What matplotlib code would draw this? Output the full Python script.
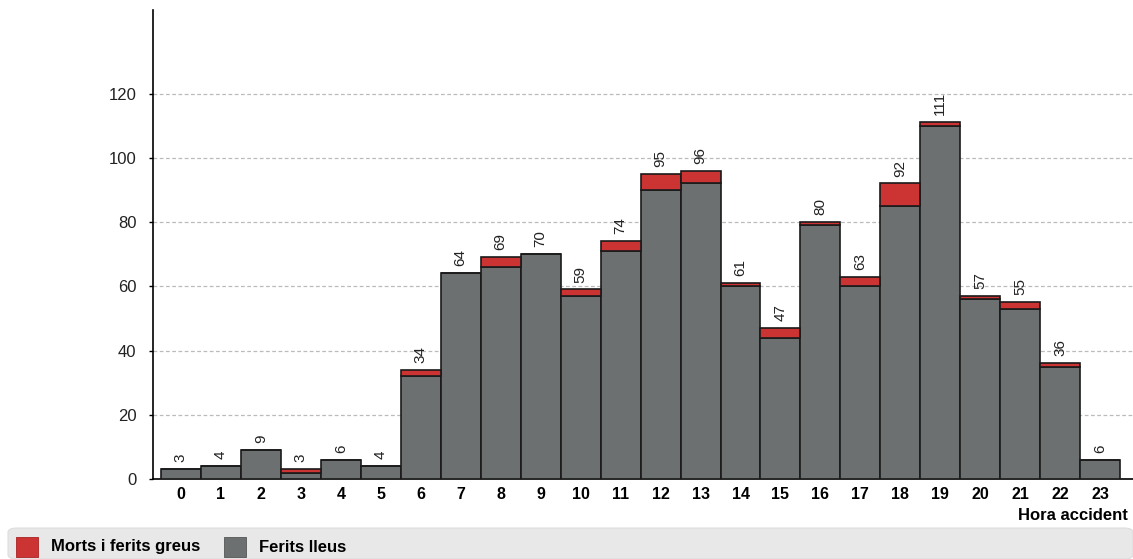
import numpy as np
import matplotlib.pyplot as plt
from matplotlib.patches import FancyBboxPatch, Rectangle

plt.rcParams['font.family'] = ['Liberation Sans', 'DejaVu Sans']

# data
hours = list(range(24))
totals = [3, 4, 9, 3, 6, 4, 34, 64, 69, 70, 59, 74, 95, 96, 61, 47, 80, 63, 92, 111, 57, 55, 36, 6]
ferits_lleus = [3, 4, 9, 2, 6, 4, 32, 64, 66, 70, 57, 71, 90, 92, 60, 44, 79, 60, 85, 110, 56, 53, 35, 6]
morts_greus = [t - f for t, f in zip(totals, ferits_lleus)]

red = '#cc3333'
gray = '#6d7070'

fig = plt.figure(figsize=(11.33, 5.59), dpi=100)
ax = fig.add_axes([0.135, 0.1431, 0.865, 0.839])

x = np.array(hours)
ax.bar(x, ferits_lleus, width=1.0, color=gray, edgecolor='#1a1a1a', linewidth=1.2, zorder=3)
ax.bar(x, morts_greus, width=1.0, bottom=ferits_lleus, color=red, edgecolor='#1a1a1a', linewidth=1.2, zorder=3)

for xi, t in zip(x, totals):
    ax.annotate(str(t), (xi, t), xytext=(0, 5), textcoords='offset points',
                rotation=90, ha='center', va='bottom', fontsize=11, color='#222222')

ax.set_xlim(-0.7, 23.82)
ax.set_ylim(0, 146)
ax.set_yticks([0, 20, 40, 60, 80, 100, 120])
ax.set_xticks(x)
ax.set_xticklabels([str(h) for h in hours], fontweight='bold', fontsize=11.5)
ax.tick_params(axis='y', labelsize=12, length=3, width=1, pad=9, labelcolor='#222222')
ax.tick_params(axis='x', length=0, pad=6)
ax.grid(axis='y', linestyle=(0, (3, 2)), color='#bbbbbb', linewidth=0.9, zorder=0)
for s in ['top', 'right']:
    ax.spines[s].set_visible(False)
ax.spines['left'].set_linewidth(1.2)
ax.spines['bottom'].set_linewidth(1.2)

fig.text(1128 / 1133, 1 - 515 / 559, 'Hora accident', ha='right', va='center',
         fontsize=12, fontweight='bold')

# legend strip at the bottom
W, H = 1133, 559
bg = FancyBboxPatch((8 / W, 0.0), 1125 / W, 31 / H, boxstyle='round,pad=0,rounding_size=0.008',
                    transform=fig.transFigure, facecolor='#e8e8e8', edgecolor='#dddddd',
                    linewidth=0.8, zorder=0)
fig.patches.append(bg)
fig.patches.append(Rectangle((16 / W, 1 - 557 / H), 22 / W, 20 / H, transform=fig.transFigure,
                             facecolor=red, edgecolor='#aa2222', linewidth=0.6))
fig.text(51 / W, 1 - 547 / H, 'Morts i ferits greus', fontsize=12, fontweight='bold', va='center')
fig.patches.append(Rectangle((224 / W, 1 - 557 / H), 22 / W, 20 / H, transform=fig.transFigure,
                             facecolor=gray, edgecolor='#555555', linewidth=0.6))
fig.text(259 / W, 1 - 547 / H, 'Ferits lleus', fontsize=12, fontweight='bold', va='center')

fig.savefig('out.png', dpi=100)
